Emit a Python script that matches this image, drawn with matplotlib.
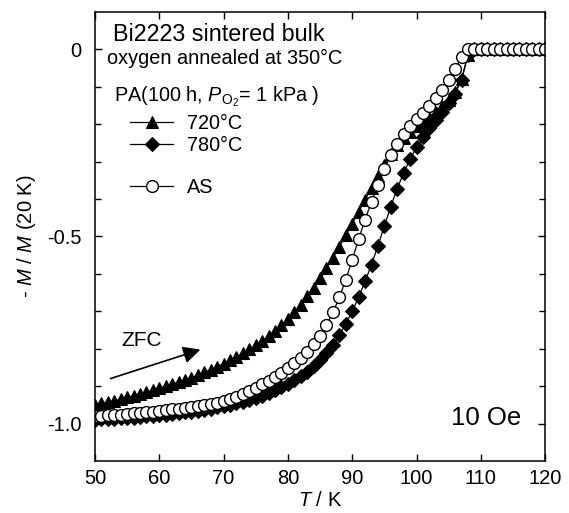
import matplotlib
matplotlib.use("Agg")
import matplotlib.pyplot as plt
from matplotlib.lines import Line2D

plt.rcParams['font.family'] = ['Liberation Sans', 'DejaVu Sans']
plt.rcParams['mathtext.fontset'] = 'custom'
plt.rcParams['mathtext.rm'] = 'Liberation Sans'
plt.rcParams['mathtext.it'] = 'Liberation Sans:italic'

# 温度 (K)
temps = [50, 51, 52, 53, 54, 55, 56, 57, 58, 59,
         60, 61, 62, 63, 64, 65, 66, 67, 68, 69,
         70, 71, 72, 73, 74, 75, 76, 77, 78, 79,
         80, 81, 82, 83, 84, 85, 86, 87, 88, 89,
         90, 91, 92, 93, 94, 95, 96, 97, 98, 99,
         100, 101, 102, 103, 104, 105, 106, 107, 108, 109,
         110, 111, 112, 113, 114, 115, 116, 117, 118, 119, 120]

# PA 720°C
m_720 = [-0.950, -0.946, -0.943, -0.939, -0.935, -0.930, -0.926, -0.921, -0.916, -0.911,
         -0.906, -0.900, -0.895, -0.889, -0.883, -0.877, -0.870, -0.863, -0.856, -0.848,
         -0.840, -0.831, -0.822, -0.812, -0.802, -0.791, -0.779, -0.766, -0.752, -0.737,
         -0.720, -0.702, -0.682, -0.660, -0.637, -0.612, -0.585, -0.557, -0.527, -0.497,
         -0.466, -0.434, -0.402, -0.370, -0.338, -0.308, -0.280, -0.256, -0.236, -0.220,
         -0.206, -0.193, -0.180, -0.166, -0.151, -0.135, -0.115, -0.080, -0.015, 0.0,
         0.0, 0.0, 0.0, 0.0, 0.0, 0.0, 0.0, 0.0, 0.0, 0.0, 0.0]

# PA 780°C
m_780 = [-0.990, -0.989, -0.988, -0.987, -0.986, -0.985, -0.984, -0.983, -0.981, -0.980,
         -0.978, -0.976, -0.974, -0.972, -0.970, -0.968, -0.966, -0.963, -0.960, -0.957,
         -0.954, -0.950, -0.946, -0.942, -0.937, -0.932, -0.926, -0.919, -0.911, -0.903,
         -0.894, -0.884, -0.873, -0.861, -0.847, -0.831, -0.812, -0.790, -0.763, -0.733,
         -0.700, -0.662, -0.620, -0.575, -0.525, -0.472, -0.420, -0.372, -0.330, -0.293,
         -0.262, -0.235, -0.210, -0.188, -0.166, -0.143, -0.118, -0.082, -0.015, 0.0,
         0.0, 0.0, 0.0, 0.0, 0.0, 0.0, 0.0, 0.0, 0.0, 0.0, 0.0]

# as-sintered
m_as = [-0.980, -0.979, -0.978, -0.977, -0.976, -0.975, -0.973, -0.972, -0.970, -0.968,
        -0.966, -0.964, -0.962, -0.960, -0.958, -0.956, -0.953, -0.951, -0.948, -0.945,
        -0.941, -0.935, -0.928, -0.921, -0.913, -0.904, -0.895, -0.885, -0.875, -0.864,
        -0.852, -0.839, -0.825, -0.808, -0.788, -0.765, -0.737, -0.703, -0.663, -0.615,
        -0.562, -0.507, -0.455, -0.407, -0.362, -0.320, -0.283, -0.252, -0.226, -0.204,
        -0.186, -0.169, -0.151, -0.131, -0.109, -0.083, -0.053, -0.020, 0.0, 0.0,
        0.0, 0.0, 0.0, 0.0, 0.0, 0.0, 0.0, 0.0, 0.0, 0.0, 0.0]

fig = plt.figure(figsize=(5.69, 5.13), dpi=100)
ax = fig.add_axes([0.167, 0.1014, 0.791, 0.8752])

tri = dict(color='k', lw=0.9, marker='^', ms=9, mfc='k', mec='k', mew=0.8)
dia = dict(color='k', lw=0.9, marker='D', ms=7, mfc='k', mec='k', mew=0.8)
circ = dict(color='k', lw=0.9, marker='o', ms=8.5, mfc='white', mec='k', mew=1.0)

ax.plot(temps, m_720, **tri)
ax.plot(temps, m_780, **dia)
ax.plot(temps, m_as, **circ)

ax.set_xlim(50, 120)
ax.set_ylim(-1.1, 0.1)
ax.set_xticks([50, 60, 70, 80, 90, 100, 110, 120])
ax.set_yticks([-1.0, -0.5, 0.0])
ax.set_yticklabels(['-1.0', '-0.5', '0'])
ax.set_yticks([-1.0, -0.9, -0.8, -0.7, -0.6, -0.5, -0.4, -0.3, -0.2, -0.1, 0.0], minor=True)
ax.tick_params(which='both', direction='in', top=True, right=True, width=1.0, labelsize=14.5)
ax.tick_params(which='major', length=5, pad=6)
ax.tick_params(which='minor', length=4)
ax.tick_params(axis='y', which='major', pad=10)
for s in ax.spines.values():
    s.set_linewidth(1.1)

ax.set_xlabel('$T$ / K', fontsize=14.5, labelpad=2)
ax.set_ylabel('- $M$ / $M$ (20 K)', fontsize=14.5, labelpad=6)

ax.text(0.04, 0.935, 'Bi2223 sintered bulk', transform=ax.transAxes, fontsize=16.8, va='baseline')
ax.text(0.027, 0.884, 'oxygen annealed at 350°C', transform=ax.transAxes, fontsize=14.3, va='baseline')
ax.text(0.042, 0.800, r'PA(100 h, $P_{\mathrm{O}_2}$= 1 kPa )', transform=ax.transAxes,
        fontsize=14.3, va='baseline')
ax.text(0.947, 0.080, '10 Oe', transform=ax.transAxes, fontsize=18.5, ha='right', va='baseline')

# ZFC 方向箭头
ax.annotate('', xy=(66.8, -0.80), xytext=(52.0, -0.882),
            arrowprops=dict(arrowstyle='-|>', mutation_scale=26, lw=1.2, color='k'))
ax.text(57.3, -0.778, 'ZFC', fontsize=15, ha='center', va='center')

# 图例：退火样品一组，AS 单独一行
leg_opts = dict(fontsize=14.3, frameon=False, loc='upper left',
                handlelength=2.2, handletextpad=0.7, labelspacing=0.17, borderpad=0.0)
leg1 = ax.legend([Line2D([], [], **tri), Line2D([], [], **dia)], ['720°C', '780°C'],
                 bbox_to_anchor=(0.055, 0.795), **leg_opts)
ax.add_artist(leg1)
ax.legend([Line2D([], [], **circ)], ['AS'], bbox_to_anchor=(0.055, 0.653), **leg_opts)

fig.savefig('out.png', dpi=100)
